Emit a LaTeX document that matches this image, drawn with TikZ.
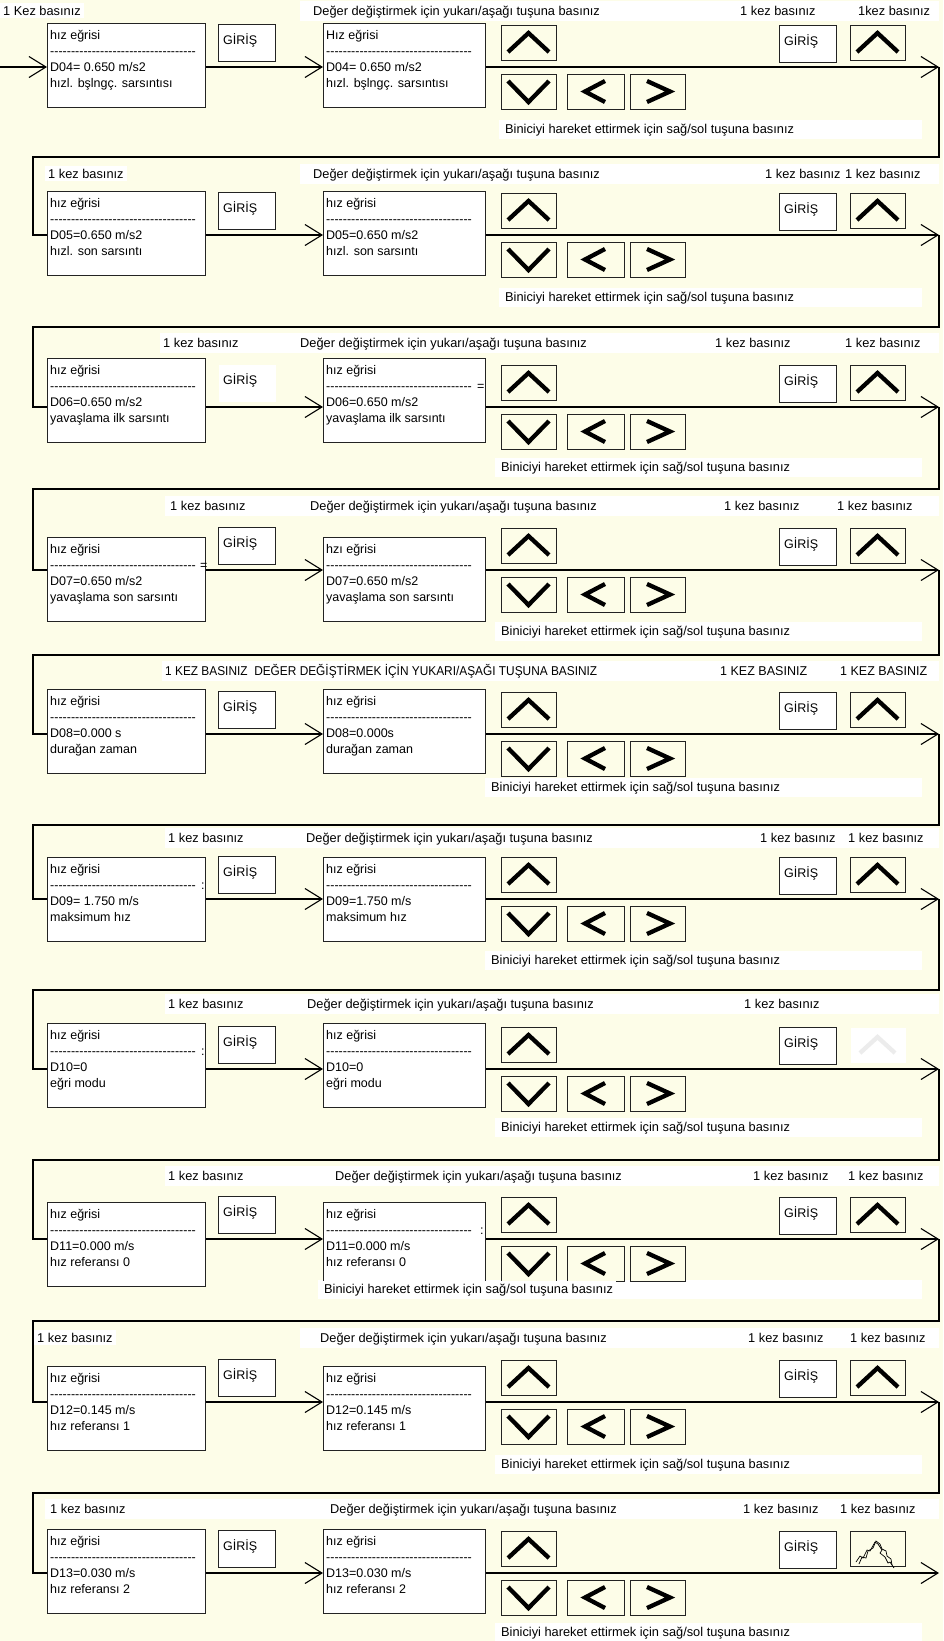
\documentclass[tikz,border=0pt]{standalone}
\usepackage{fontspec}
\setmainfont{Liberation Sans}
\usepackage{graphicx}
\usetikzlibrary{arrows.meta,calc}

\definecolor{cream}{RGB}{253,253,232}
\definecolor{edge}{RGB}{35,35,35}

% row of typed hyphens under the display title
\newcommand{\hyrow}[1]{\foreach \k in {1,...,#1}{\mbox{-}}}
% the four lines written in a display
\newcommand{\lcdlines}[4]{%
  \node[txt] (#1t) at ([shift={(3,16)}]#1.north west) {#2};
  \node[txt] (#1d) at ([shift={(3,32)}]#1.north west) {\hyrow{35}};
  \node[txt] (#1v) at ([shift={(3,48)}]#1.north west) {#3};
  \node[txt] (#1m) at ([shift={(3,64)}]#1.north west) {#4};}
\newcommand{\kez}{1 kez basınız}
\newcommand{\deger}{Değer değiştirmek için yukarı/aşağı tuşuna basınız}

\tikzset{
  lcd/.style={draw=edge, fill=white, line width=1pt, anchor=north west,
    inner sep=0pt, minimum width=158pt, minimum height=84pt},
  giris/.style={draw=edge, fill=white, line width=1pt, anchor=north west,
    inner sep=0pt, minimum width=57pt, minimum height=37pt},
  key/.style={draw=edge, fill=cream, line width=1pt, anchor=north west,
    inner sep=0pt, minimum width=55pt, minimum height=35pt},
  boxed/.style={},
  nobox/.style={draw=none, fill=white},
  glyph/.style={line width=4.3pt, line join=miter},
  txt/.style={font=\fontsize{12.5}{15}\selectfont, anchor=base west, inner sep=0pt},
  lbl/.style={font=\fontsize{12.8}{15}\selectfont, anchor=base west, fill=white,
    inner xsep=3pt, inner ysep=3pt},
  flow/.style={line width=1.1pt, -{Straight Barb[length=17pt,width=21pt]}},
  frame/.style={line width=1.1pt},
}

\begin{document}
\begin{tikzpicture}[x=1pt,y=-1pt]
  \useasboundingbox (0,0) rectangle (943,1641);
  \fill[cream] (0,0) rectangle (943,1641);

  % one row per parameter D04 ... D13
  \foreach \r/\L/\bt/\ty/\ts/\by/\bx/\gs/\vs in {
      1/67/-44/15/300/66/502/boxed/boxed,
      2/235/-44/178/300/66/502/boxed/boxed,
      3/407/-49/347/160/64/498/nobox/boxed,
      4/570/-33/510/165/65/498/boxed/boxed,
      5/734/-45/675/162/57/488/boxed/boxed,
      6/899/-42/842/165/65/488/boxed/boxed,
      7/1069/-46/1008/165/62/498/boxed/nobox,
      8/1239/-37/1180/165/54/321/boxed/boxed,
      9/1402/-36/1342/300/66/498/boxed/boxed,
      10/1573/-44/1513/45/63/498/boxed/boxed} {
    % white bands under the hints
    \fill[white] (\ts,{\ty-14}) rectangle (939,{\ty+6});
    \fill[white] ({\bx-3},{\L+\by-13}) rectangle (922,{\L+\by+6});

    % displays before and after
    \node[lcd] (l\r) at (47,{\L+\bt}) {};
    \node[lcd, minimum width=162pt] (r\r) at (323,{\L+\bt}) {};

    % enter keys
    \node[giris,\gs] (g\r) at (218,{\L-43}) {};
    \node[giris] (k\r) at (779,{\L-42}) {};
    \node[txt] (gt\r) at ([shift={(5,20)}]g\r.north west) {GİRİŞ};
    \node[txt] (kt\r) at ([shift={(5,20)}]k\r.north west) {GİRİŞ};

    % arrow keys
    \node[key] (u\r) at (501,{\L-42}) {};
    \node[key] (d\r) at (501,{\L+7}) {};
    \node[key, minimum width=57pt] (lf\r) at (567,{\L+7}) {};
    \node[key] (rg\r) at (630,{\L+7}) {};
    \node[key,\vs] (v\r) at (850,{\L-42}) {};
    \draw[glyph] ([shift={(7,27)}]u\r.north west) -- ([shift={(27.5,8)}]u\r.north west)
      -- ([shift={(48,27)}]u\r.north west);
    \draw[glyph] ([shift={(7,7)}]d\r.north west) -- ([shift={(27.5,28)}]d\r.north west)
      -- ([shift={(48,7)}]d\r.north west);
    \draw[glyph] ([shift={(38,7)}]lf\r.north west) -- ([shift={(18,17.5)}]lf\r.north west)
      -- ([shift={(38,28)}]lf\r.north west);
    \draw[glyph] ([shift={(17,7)}]rg\r.north west) -- ([shift={(40,17.5)}]rg\r.north west)
      -- ([shift={(17,28)}]rg\r.north west);

    % flow through the row
    \coordinate (a\r) at (47,\L);
    \coordinate (e\r) at (939,\L);
    \draw[flow] (l\r.east |- a\r) -- (r\r.west |- a\r);
    \draw[flow] (r\r.east |- a\r) -- (e\r);

    \node[lbl] (b\r) at (\bx,{\L+\by}) {Biniciyi hareket ettirmek için sağ/sol tuşuna basınız};
  }

  % up key on the right
  \foreach \r in {1,2,3,4,5,6,8,9}
    \draw[glyph] ([shift={(7,27)}]v\r.north west) -- ([shift={(27.5,8)}]v\r.north west)
      -- ([shift={(48,27)}]v\r.north west);
  \draw[glyph, draw=gray!15] ([shift={(10,26)}]v7.north west) -- ([shift={(27.5,10)}]v7.north west)
    -- ([shift={(45,26)}]v7.north west);
  \draw[line width=0.7pt] ([shift={(6,31)}]v10.north west) -- ++(4,-6) -- ++(3,2) -- ++(4,-8)
    -- ++(3,1) -- ++(5,-9) -- ++(3,2) -- ++(4,6) -- ++(-2,3) -- ++(5,4) -- ++(3,6)
    -- ++(2,-1) -- ++(4,6);
  \draw[line width=0.7pt] ([shift={(9,33)}]v10.north west) -- ++(3,-7) -- ++(4,1) -- ++(2,-7)
    -- ++(5,-3) -- ++(3,-7) -- ++(4,3) -- ++(2,5) -- ++(4,2) -- ++(1,5) -- ++(4,3)
    -- ++(1,6);

  % entry and return lines
  \coordinate (in) at (0,67);
  \draw[flow] (in) -- (a1);
  \foreach \r/\n/\f in {1/2/157, 2/3/327, 3/4/489, 4/5/655, 5/6/825,
      6/7/990, 7/8/1160, 8/9/1321, 9/10/1493}
    \draw[frame] (e\r) |- (33,\f) |- (a\n);

  % displays
  \lcdlines{l1}{hız eğrisi}{D04= 0.650 m/s2}{hızl. bşlngç. sarsıntısı}
  \lcdlines{r1}{Hız eğrisi}{D04= 0.650 m/s2}{hızl. bşlngç. sarsıntısı}
  \lcdlines{l2}{hız eğrisi}{D05=0.650 m/s2}{hızl. son sarsıntı}
  \lcdlines{r2}{hız eğrisi}{D05=0.650 m/s2}{hızl. son sarsıntı}
  \lcdlines{l3}{hız eğrisi}{D06=0.650 m/s2}{yavaşlama ilk sarsıntı}
  \lcdlines{r3}{hız eğrisi}{D06=0.650 m/s2}{yavaşlama ilk sarsıntı}
  \lcdlines{l4}{hız eğrisi}{D07=0.650 m/s2}{yavaşlama son sarsıntı}
  \lcdlines{r4}{hzı eğrisi}{D07=0.650 m/s2}{yavaşlama son sarsıntı}
  \lcdlines{l5}{hız eğrisi}{D08=0.000 s}{durağan zaman}
  \lcdlines{r5}{hız eğrisi}{D08=0.000s}{durağan zaman}
  \lcdlines{l6}{hız eğrisi}{D09= 1.750 m/s}{maksimum hız}
  \lcdlines{r6}{hız eğrisi}{D09=1.750 m/s}{maksimum hız}
  \lcdlines{l7}{hız eğrisi}{D10=0}{eğri modu}
  \lcdlines{r7}{hız eğrisi}{D10=0}{eğri modu}
  \lcdlines{l8}{hız eğrisi}{D11=0.000 m/s}{hız referansı 0}
  \lcdlines{r8}{hız eğrisi}{D11=0.000 m/s}{hız referansı 0}
  \lcdlines{l9}{hız eğrisi}{D12=0.145 m/s}{hız referansı 1}
  \lcdlines{r9}{hız eğrisi}{D12=0.145 m/s}{hız referansı 1}
  \lcdlines{l10}{hız eğrisi}{D13=0.030 m/s}{hız referansı 2}
  \lcdlines{r10}{hız eğrisi}{D13=0.030 m/s}{hız referansı 2}

  % stray marks next to the hyphen rows
  \node[txt] (x3) at ([shift={(154,32)}]r3.north west) {=};
  \node[txt] (x4) at ([shift={(153,32)}]l4.north west) {=};
  \node[txt] (x6) at ([shift={(154,32)}]l6.north west) {:};
  \node[txt] (x7) at ([shift={(154,32)}]l7.north west) {:};
  \node[txt] (x8) at ([shift={(157,32)}]r8.north west) {:};

  % hints above each row
  \node[lbl] (t1a) at (0,15) {1 Kez basınız};
  \node[lbl] (t1b) at (310,15) {\deger};
  \node[lbl] (t1c) at (737,15) {\kez};
  \node[lbl] (t1d) at (855,15) {1kez basınız};

  \node[lbl] (t2a) at (45,178) {\kez};
  \node[lbl] (t2b) at (310,178) {\deger};
  \node[lbl] (t2c) at (762,178) {\kez};
  \node[lbl] (t2d) at (842,178) {\kez};

  \node[lbl] (t3a) at (160,347) {\kez};
  \node[lbl] (t3b) at (297,347) {\deger};
  \node[lbl] (t3c) at (712,347) {\kez};
  \node[lbl] (t3d) at (842,347) {\kez};

  \node[lbl] (t4a) at (167,510) {\kez};
  \node[lbl] (t4b) at (307,510) {\deger};
  \node[lbl] (t4c) at (721,510) {\kez};
  \node[lbl] (t4d) at (834,510) {\kez};

  \node[lbl] (t5a) at (162,675)
    {\resizebox{432pt}{\height}{1 KEZ BASINIZ\ \ DEĞER DEĞİŞTİRMEK İÇİN YUKARI/AŞAĞI TUŞUNA BASINIZ}};
  \node[lbl] (t5c) at (717,675) {\resizebox{87pt}{\height}{1 KEZ BASINIZ}};
  \node[lbl] (t5d) at (837,675) {\resizebox{87pt}{\height}{1 KEZ BASINIZ}};

  \node[lbl] (t6a) at (165,842) {\kez};
  \node[lbl] (t6b) at (303,842) {\deger};
  \node[lbl] (t6c) at (757,842) {\kez};
  \node[lbl] (t6d) at (845,842) {\kez};

  \node[lbl] (t7a) at (165,1008) {\kez};
  \node[lbl] (t7b) at (304,1008) {\deger};
  \node[lbl] (t7c) at (741,1008) {\kez};

  \node[lbl] (t8a) at (165,1180) {\kez};
  \node[lbl] (t8b) at (332,1180) {\deger};
  \node[lbl] (t8c) at (750,1180) {\kez};
  \node[lbl] (t8d) at (845,1180) {\kez};

  \node[lbl] (t9a) at (34,1342) {\kez};
  \node[lbl] (t9b) at (317,1342) {\deger};
  \node[lbl] (t9c) at (745,1342) {\kez};
  \node[lbl] (t9d) at (847,1342) {\kez};

  \node[lbl] (t10a) at (47,1513) {\kez};
  \node[lbl] (t10b) at (327,1513) {\deger};
  \node[lbl] (t10c) at (740,1513) {\kez};
  \node[lbl] (t10d) at (837,1513) {\kez};
\end{tikzpicture}
\end{document}
